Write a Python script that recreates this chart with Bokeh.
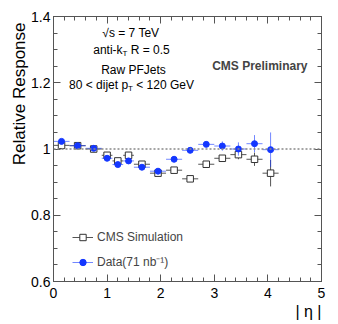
import numpy as np
from bokeh.plotting import figure
from bokeh.models import (Label, Legend, LegendItem, LinearAxis, FixedTicker, Span, Title)
from bokeh.embed import file_html
from bokeh.resources import INLINE

# ---------------- data ----------------
eta_lo = [0.0, 0.3, 0.6, 0.9, 1.1, 1.3, 1.5, 1.8, 2.1, 2.4, 2.7, 3.0, 3.3, 3.6, 3.9]
eta_hi = [0.3, 0.6, 0.9, 1.1, 1.3, 1.5, 1.8, 2.1, 2.4, 2.7, 3.0, 3.3, 3.6, 3.9, 4.2]
data_resp = [1.023, 1.010, 1.002, 0.972, 0.953, 0.964, 0.945, 0.933, 0.969, 0.996,
             1.014, 1.009, 1.000, 1.016, 0.998]
data_err = [0.004, 0.003, 0.003, 0.004, 0.004, 0.005, 0.004, 0.004, 0.005, 0.004,
            0.006, 0.014, 0.020, 0.026, 0.052]
mc_resp = [1.011, 1.010, 1.000, 0.981, 0.964, 0.981, 0.954, 0.927, 0.936, 0.910,
           0.954, 0.972, 0.983, 0.969, 0.927]
mc_err = [0.003, 0.003, 0.003, 0.004, 0.004, 0.004, 0.004, 0.004, 0.004, 0.004,
          0.005, 0.006, 0.014, 0.020, 0.040]
x_ticks = [0, 1, 2, 3, 4, 5]
y_ticks = [0.6, 0.8, 1.0, 1.2, 1.4]
y_tick_labels = ["0.6", "0.8", "1", "1.2", "1.4"]
legend_labels = ["CMS Simulation", "Data(71 nb\u207b\u00b9)"]

# ---------------- figure ----------------
FONT = "Liberation Sans"
p = figure(width=338, height=324, x_range=(0, 5), y_range=(0.6, 1.4),
           output_backend="svg", toolbar_location=None,
           min_border_left=53, min_border_right=17, min_border_top=16, min_border_bottom=43)
p.grid.visible = False
p.outline_line_color = "#555555"
p.background_fill_color = "white"
p.border_fill_color = "white"

x_minor = list(np.round(np.arange(0, 5.0001, 0.2), 3))
y_minor = list(np.round(np.arange(0.6, 1.4001, 0.05), 3))
xt = FixedTicker(ticks=x_ticks, minor_ticks=x_minor)
yt = FixedTicker(ticks=y_ticks, minor_ticks=y_minor)

def style_axis(ax, ticks, labels=True):
    ax.axis_line_color = "#555555"
    ax.major_tick_line_color = "#555555"
    ax.minor_tick_line_color = "#555555"
    ax.major_tick_in = 7
    ax.major_tick_out = 0
    ax.minor_tick_in = 4
    ax.minor_tick_out = 0
    ax.major_label_text_font = FONT
    ax.major_label_text_font_size = "14px"
    ax.major_label_text_color = "black"
    if not labels:
        ax.major_label_overrides = {t: "" for t in ticks}
        ax.major_label_standoff = 0

xa = p.xaxis[0]
xa.ticker = xt
style_axis(xa, x_ticks)
xa.major_label_standoff = 6
ya = p.yaxis[0]
ya.ticker = yt
style_axis(ya, y_ticks)
ya.major_label_standoff = 3
ya.major_label_overrides = {t: l for t, l in zip(y_ticks, y_tick_labels)}

top = LinearAxis(ticker=xt)
style_axis(top, x_ticks, labels=False)
p.add_layout(top, "above")
right = LinearAxis(ticker=yt)
style_axis(right, y_ticks, labels=False)
p.add_layout(right, "right")

# axis titles as side titles
p.add_layout(Title(text="Relative Response", align="right", offset=6, standoff=0,
                   text_font=FONT, text_font_size="17px", text_font_style="normal",
                   text_color="black"), "left")
p.add_layout(Title(text="| \u03b7 |", align="right", standoff=0,
                   text_font=FONT, text_font_size="16px", text_font_style="normal",
                   text_color="black"), "below")

# reference line at 1
p.add_layout(Span(location=1.0, dimension="width", line_color="#888888",
                  line_dash="2 2", line_width=1.5))

lo = np.array(eta_lo); hi = np.array(eta_hi)
xc = (lo + hi) / 2
mc = np.array(mc_resp); me = np.array(mc_err)
dd = np.array(data_resp); de = np.array(data_err)

MC_COL = "#555555"
D_COL = "#1437ff"

mc_h = p.segment(x0=lo, x1=hi, y0=mc, y1=mc, line_color=MC_COL, line_width=1)
p.segment(x0=xc, x1=xc, y0=mc - me, y1=mc + me, line_color=MC_COL, line_width=1)
mc_pts = p.scatter(x=xc, y=mc, marker="square", size=6.5, fill_color="white",
                   line_color="#333333", line_width=1)

d_h = p.segment(x0=lo, x1=hi, y0=dd, y1=dd, line_color=D_COL, line_alpha=0.6, line_width=1)
p.segment(x0=xc, x1=xc, y0=dd - de, y1=dd + de, line_color=D_COL, line_alpha=0.6, line_width=1)
d_pts = p.scatter(x=xc, y=dd, marker="circle", size=6, fill_color=D_COL, line_color=D_COL)

legend = Legend(items=[LegendItem(label=legend_labels[0], renderers=[mc_h, mc_pts]),
                       LegendItem(label=legend_labels[1], renderers=[d_h, d_pts])],
                location=(19, 11), margin=0, padding=0, spacing=8,
                glyph_width=21, glyph_height=16, label_height=16, label_standoff=4,
                label_text_font=FONT, label_text_font_size="12px",
                border_line_alpha=0, background_fill_alpha=0)
p.add_layout(legend)

# ---------------- text annotations ----------------
W = {' ': 278, '.': 278, '<': 584, '=': 584, '-': 333, '0': 556, '1': 556, '2': 556,
     '5': 556, '7': 556, '8': 556, 'a': 556, 'n': 556, 't': 278, 'i': 222, 'k': 500,
     'd': 556, 'j': 222, 'e': 556, 'p': 556, 's': 500, 'T': 611, 'R': 722, 'G': 778,
     'V': 667, 'w': 722, 'P': 667, 'F': 611, 'J': 500, '\u221a': 549}

def tw(s, size):
    return sum(W.get(c, 556) for c in s) / 1000.0 * size

def X(px):
    return (px - 53) / 268.0 * 5

def Y(py):
    return 1.4 - (py - 16) / 265.0 * 0.8

def text_line(segs, cx, cy):
    total = sum(tw(s, sz) for s, sz, _ in segs)
    off = -total / 2.0
    for s, sz, dy in segs:
        stripped = s.lstrip(" ")
        lead = tw(s[:len(s) - len(stripped)], sz)
        p.add_layout(Label(x=X(cx), y=Y(cy), x_offset=off + lead, y_offset=dy, text=stripped,
                           text_font=FONT, text_font_size=f"{sz}px",
                           text_align="left", text_baseline="middle", text_color="black"))
        off += tw(s, sz)

text_line([("\u221as = 7 TeV", 12, 0)], 131, 32)
text_line([("anti-k", 12, 0), ("T", 8, -4), (" R = 0.5", 12, 0)], 131, 49)
text_line([("Raw PFJets", 12, 0)], 133, 69)
text_line([("80 < dijet p", 12, 0), ("T", 8, -4), (" < 120 GeV", 12, 0)], 131, 84)

p.add_layout(Label(x=X(307), y=Y(65), text="CMS Preliminary", text_font=FONT,
                   text_font_size="12px", text_font_style="bold",
                   text_align="right", text_baseline="middle"))

open("out.html", "w").write(file_html(p, INLINE))
